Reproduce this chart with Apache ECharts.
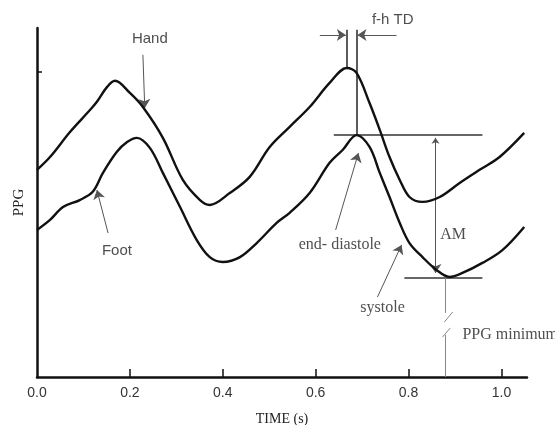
<!DOCTYPE html>
<html>
<head>
<meta charset="utf-8">
<script src="https://cdn.jsdelivr.net/npm/echarts@6/dist/echarts.min.js"></script>
<style>
  html, body { margin: 0; padding: 0; background: #fff; }
  #main { width: 555px; height: 425px; }
</style>
</head>
<body>
<div id="main"></div>
<script>
// time (s) and PPG (arbitrary units)
var handTime = [0, 0.028, 0.071, 0.114, 0.129, 0.151, 0.168, 0.2, 0.228, 0.271, 0.314, 0.351, 0.372, 0.415, 0.458, 0.501, 0.544, 0.587, 0.63, 0.667, 0.688, 0.716, 0.738, 0.759, 0.781, 0.802, 0.83, 0.867, 0.91, 0.953, 0.996, 1.049];
var handPPG = [0.679, 0.721, 0.803, 0.875, 0.902, 0.951, 0.971, 0.931, 0.885, 0.784, 0.646, 0.58, 0.564, 0.603, 0.656, 0.754, 0.82, 0.885, 0.964, 1.013, 0.997, 0.898, 0.81, 0.721, 0.646, 0.59, 0.574, 0.59, 0.636, 0.679, 0.721, 0.8];

var footTime = [0, 0.028, 0.056, 0.092, 0.12, 0.142, 0.172, 0.194, 0.215, 0.243, 0.271, 0.308, 0.344, 0.372, 0.4, 0.437, 0.473, 0.516, 0.544, 0.587, 0.63, 0.658, 0.688, 0.716, 0.738, 0.759, 0.781, 0.802, 0.83, 0.86, 0.888, 0.916, 0.959, 1.002, 1.049];
var footPPG = [0.482, 0.515, 0.557, 0.58, 0.607, 0.669, 0.738, 0.77, 0.784, 0.751, 0.669, 0.557, 0.449, 0.393, 0.377, 0.393, 0.439, 0.505, 0.538, 0.603, 0.702, 0.744, 0.793, 0.754, 0.669, 0.59, 0.505, 0.439, 0.393, 0.351, 0.328, 0.341, 0.374, 0.416, 0.492];

var xTickLabels = [0, 0.2, 0.4, 0.6, 0.8, 1.0];
var xTicks = [0.2, 0.4, 0.6, 0.8, 1.0];
var yTicks = [1.0];

// annotation geometry in data units (time, PPG)
var plainLines = [
  [[0.667, 1.138], [0.667, 1.013]],   // hand peak marker
  [[0.688, 1.138], [0.688, 0.793]],   // foot peak marker
  [[0.639, 0.793], [0.959, 0.793]],   // end-diastole level
  [[0.791, 0.325], [0.959, 0.325]]    // systole level
];
var arrowLines = [
  [[0.228, 1.056], [0.232, 0.882]],   // Hand
  [[0.153, 0.472], [0.129, 0.613]],   // Foot
  [[0.643, 0.482], [0.692, 0.734]],   // end- diastole
  [[0.733, 0.262], [0.785, 0.433]],   // systole
  [[0.609, 1.121], [0.665, 1.121]],   // f-h TD left
  [[0.774, 1.121], [0.690, 1.121]]    // f-h TD right
];
var amLine = [[0.858, 0.784], [0.858, 0.341]];
var minLines = [
  [[0.880, 0.325], [0.880, 0.210]],
  [[0.880, 0.138], [0.880, 0.0]],
  [[0.877, 0.180], [0.895, 0.213]],
  [[0.873, 0.131], [0.890, 0.161]]
];

var sansNotes = [
  { name: 'Hand', value: [0.243, 1.108] },
  { name: 'Foot', value: [0.172, 0.413] },
  { name: 'f-h TD', value: [0.766, 1.170] }
];
var serifNotes = [
  { name: 'end- diastole', value: [0.652, 0.433] },
  { name: 'systole', value: [0.744, 0.226] },
  { name: 'AM', value: [0.896, 0.466] }
];
var leftNotes = [
  { name: 'PPG minimum', value: [0.916, 0.138] }
];

function toPairs(xs, ys) {
  return xs.map(function (x, i) { return [x, ys[i]]; });
}
function toLines(list) {
  return list.map(function (c) { return { coords: c }; });
}

var chart = echarts.init(document.getElementById('main'));

var noteSeries = function (data, font, size, align) {
  return {
    type: 'scatter',
    data: data,
    symbolSize: 0,
    clip: false,
    silent: true,
    label: {
      show: true,
      position: 'inside',
      align: align,
      formatter: '{b}',
      color: '#222',
      fontFamily: font,
      fontSize: size
    }
  };
};

chart.setOption({
  animation: false,
  backgroundColor: '#fff',
  grid: { left: 37, right: 28, top: 28, bottom: 48, containLabel: false, outerBoundsMode: 'none' },
  xAxis: {
    type: 'value',
    min: 0,
    max: 1.055,
    name: 'TIME (s)',
    nameLocation: 'middle',
    nameGap: 35,
    nameTextStyle: { fontFamily: 'Liberation Serif', fontSize: 14, color: '#222' },
    splitLine: { show: false },
    axisLine: { lineStyle: { color: '#111', width: 2.5 } },
    axisTick: {
      inside: true,
      length: 8,
      customValues: xTicks,
      lineStyle: { color: '#111', width: 1.5 }
    },
    axisLabel: {
      customValues: xTickLabels,
      margin: 9,
      color: '#333',
      fontFamily: 'Liberation Sans',
      fontSize: 14,
      formatter: function (v) { return v.toFixed(1); }
    }
  },
  yAxis: {
    type: 'value',
    min: 0,
    max: 1.144,
    name: 'PPG',
    nameLocation: 'middle',
    nameRotate: 90,
    nameGap: 10,
    nameTextStyle: { fontFamily: 'Liberation Serif', fontSize: 15, color: '#222' },
    splitLine: { show: false },
    axisLine: { show: true, lineStyle: { color: '#111', width: 2.5 } },
    axisTick: {
      inside: true,
      length: 5,
      customValues: yTicks,
      lineStyle: { color: '#111', width: 1.5 }
    },
    axisLabel: { show: false }
  },
  series: [
    {
      name: 'Hand',
      type: 'line',
      data: toPairs(handTime, handPPG),
      smooth: 0.35,
      showSymbol: false,
      lineStyle: { color: '#111', width: 2.4 }
    },
    {
      name: 'Foot',
      type: 'line',
      data: toPairs(footTime, footPPG),
      smooth: 0.35,
      showSymbol: false,
      lineStyle: { color: '#111', width: 2.4 }
    },
    {
      type: 'lines',
      coordinateSystem: 'cartesian2d',
      data: toLines(plainLines),
      symbol: 'none',
      silent: true,
      lineStyle: { color: '#333', width: 1.6, opacity: 1 }
    },
    {
      type: 'lines',
      coordinateSystem: 'cartesian2d',
      data: toLines(arrowLines),
      symbol: ['none', 'arrow'],
      symbolSize: [6, 9],
      silent: true,
      lineStyle: { color: '#555', width: 1, opacity: 1 }
    },
    {
      type: 'lines',
      coordinateSystem: 'cartesian2d',
      data: toLines([amLine]),
      symbol: ['arrow', 'arrow'],
      symbolSize: [6, 9],
      silent: true,
      lineStyle: { color: '#555', width: 1, opacity: 1 }
    },
    {
      type: 'lines',
      coordinateSystem: 'cartesian2d',
      data: toLines(minLines),
      symbol: 'none',
      silent: true,
      lineStyle: { color: '#888', width: 1, opacity: 1 }
    },
    noteSeries(sansNotes, 'Liberation Sans', 15, 'center'),
    noteSeries(serifNotes, 'Liberation Serif', 16, 'center'),
    noteSeries(leftNotes, 'Liberation Serif', 16, 'left')
  ]
});
</script>
</body>
</html>
